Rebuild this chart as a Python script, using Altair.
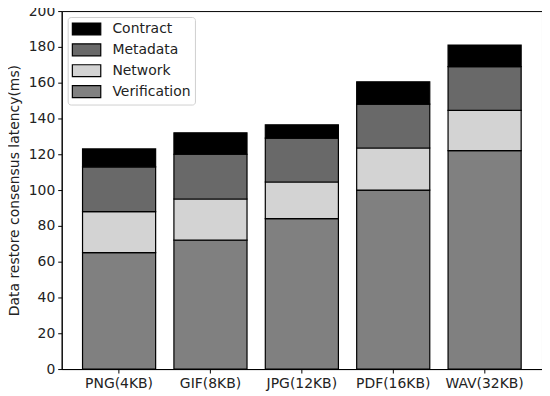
import altair as alt
import pandas as pd

categories = ["PNG(4KB)", "GIF(8KB)", "JPG(12KB)", "PDF(16KB)", "WAV(32KB)"]
series = ["Verification", "Network", "Metadata", "Contract"]
verification = [65, 72, 84, 100, 122]
network = [23, 23, 20.5, 23.5, 22.5]
metadata = [25, 25, 24.5, 24.5, 24.5]
contract = [10, 12, 7.5, 12.5, 12]
colors = ["#808080", "#d3d3d3", "#696969", "#000000"]

rows = []
for i, c in enumerate(categories):
    for k, (s, vals) in enumerate(zip(series, [verification, network, metadata, contract])):
        rows.append({"cat": c, "series": s, "value": vals[i], "ord": k})
df = pd.DataFrame(rows)

font = "DejaVu Sans"
fs = 14
chart = alt.Chart(df).mark_bar(stroke="#000000", strokeWidth=1.2).encode(
    x=alt.X("cat:N", sort=categories, title=None,
            scale=alt.Scale(paddingInner=0.2, paddingOuter=0.228),
            axis=alt.Axis(labelAngle=0, labelFontSize=fs, labelFont=font, labelColor="#222",
                          domainColor="#000", tickColor="#000", tickSize=4, labelPadding=4)),
    y=alt.Y("value:Q", stack="zero", title="Data restore consensus latency(ms)",
            scale=alt.Scale(domain=[0, 200], nice=False),
            axis=alt.Axis(values=list(range(0, 201, 20)), grid=False, labelFontSize=fs,
                          labelFont=font, labelColor="#222", titleFont=font, titleFontSize=fs,
                          titleFontWeight="normal", titleColor="#222", domainColor="#000",
                          tickColor="#000", tickSize=4, labelPadding=3, titlePadding=7)),
    color=alt.Color("series:N", sort=["Contract", "Metadata", "Network", "Verification"],
                    scale=alt.Scale(domain=series, range=colors),
                    legend=alt.Legend(title=None, orient="none", legendX=6, legendY=6,
                                      values=["Contract", "Metadata", "Network", "Verification"],
                                      symbolType="M-2,-0.84H2V0.84H-2Z", symbolSize=204,
                                      symbolOffset=7, symbolStrokeColor="#000",
                                      symbolStrokeWidth=1.2,
                                      labelFontSize=fs, labelFont=font, labelColor="#222",
                                      labelOffset=18, fillColor="white", strokeColor="#d0d0d0",
                                      padding=4, cornerRadius=3, rowPadding=3)),
    order=alt.Order("ord:Q", sort="ascending"),
).properties(
    width=483, height=360,
    autosize=alt.AutoSizeParams(type="none"),
    padding={"left": 54, "top": 2, "right": 0, "bottom": 24},
).configure_view(stroke="#000", strokeWidth=1)

chart.save("out.html", embed_options={"renderer": "svg", "actions": False})
